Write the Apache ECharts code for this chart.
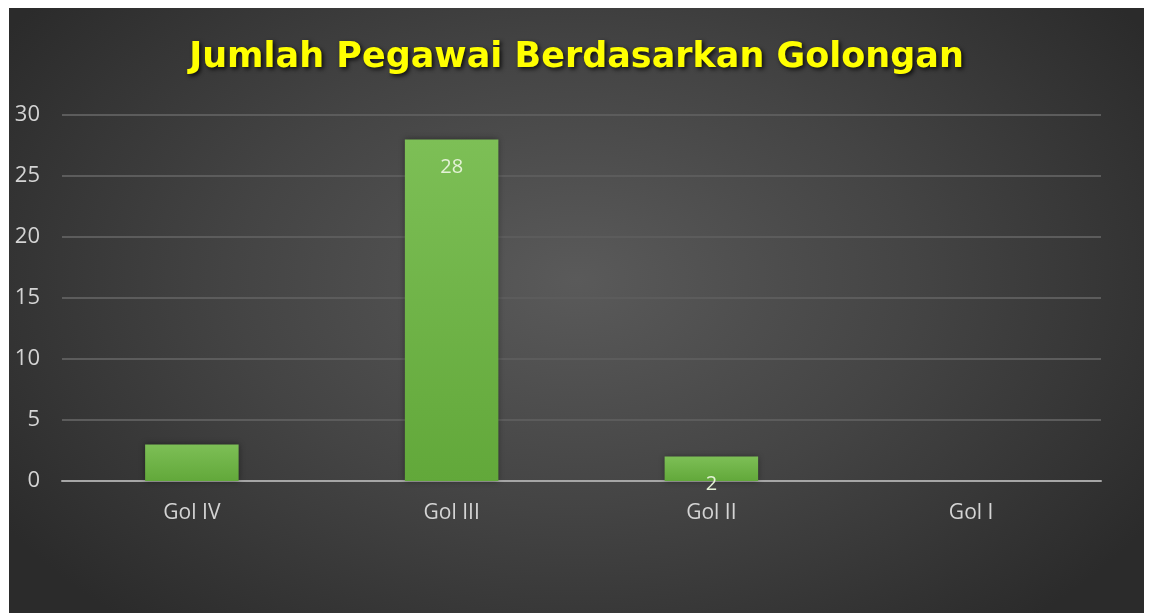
<!DOCTYPE html>
<html>
<head>
<meta charset="utf-8">
<script src="https://cdn.jsdelivr.net/npm/echarts@6/dist/echarts.min.js"></script>
<style>
  html, body { margin: 0; padding: 0; background: #ffffff; width: 1152px; height: 613px; overflow: hidden; }
  #chart {
    position: absolute; left: 9px; top: 8px; width: 1135px; height: 605px;
    background: radial-gradient(ellipse 60% 75% at 50% 45%, #5a5a5a 0%, #444444 50%, #2b2b2b 100%);
  }
</style>
</head>
<body>
<div id="chart"></div>
<script>
const titleText = 'Jumlah Pegawai Berdasarkan Golongan';
const categories = ['Gol IV', 'Gol III', 'Gol II', 'Gol I'];
const values = [3, 28, 2, 0];
const showLabel = [false, true, true, false];
const yTicks = [0, 5, 10, 15, 20, 25, 30];

const chart = echarts.init(document.getElementById('chart'), null, { renderer: 'canvas' });
chart.setOption({
  backgroundColor: 'transparent',
  animation: false,
  title: {
    text: titleText,
    left: 'center',
    top: 27,
    textStyle: {
      color: '#ffff00',
      fontFamily: 'DejaVu Sans',
      fontWeight: 'bold',
      fontSize: 35,
      textShadowColor: 'rgba(0,0,0,0.8)',
      textShadowBlur: 4,
      textShadowOffsetX: 2,
      textShadowOffsetY: 2
    }
  },
  grid: { left: 53, right: 43, top: 107, bottom: 132, containLabel: false },
  xAxis: {
    type: 'category',
    data: categories,
    axisLine: { show: true, lineStyle: { color: '#a6a6a6', width: 2 } },
    axisTick: { show: false },
    axisLabel: { color: '#d4d4d4', fontFamily: 'Open Sans', fontSize: 21, margin: 22 }
  },
  yAxis: {
    type: 'value',
    min: yTicks[0],
    max: yTicks[yTicks.length - 1],
    interval: 5,
    axisLine: { show: false },
    axisTick: { show: false },
    axisLabel: { color: '#d4d4d4', fontFamily: 'Open Sans', fontSize: 22, align: 'right', margin: 22 },
    splitLine: { lineStyle: { color: '#5c5c5c', width: 2 } }
  },
  series: [{
    type: 'bar',
    barWidth: '36%',
    data: values.map((v, i) => ({
      value: v,
      label: { show: showLabel[i] }
    })),
    itemStyle: {
      color: new echarts.graphic.LinearGradient(0, 0, 0, 1, [
        { offset: 0, color: '#7dbf56' },
        { offset: 1, color: '#62a83a' }
      ]),
      shadowColor: 'rgba(0,0,0,0.4)',
      shadowBlur: 6
    },
    label: {
      position: 'insideTop',
      distance: 18,
      color: '#e4f2d6',
      fontFamily: 'Open Sans',
      fontSize: 20
    }
  }]
});
</script>
</body>
</html>
